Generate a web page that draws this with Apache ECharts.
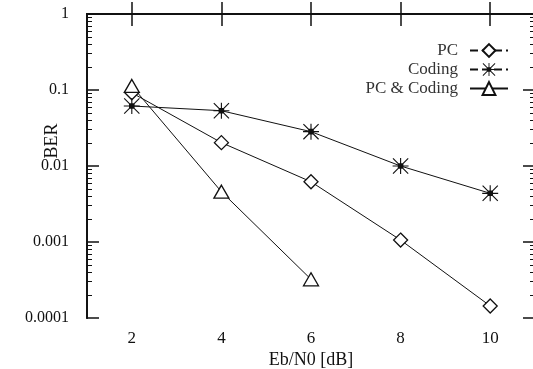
<!DOCTYPE html>
<html>
<head>
<meta charset="utf-8">
<script src="https://cdn.jsdelivr.net/npm/echarts@6/dist/echarts.min.js"></script>
<style>
  html, body { margin: 0; padding: 0; background: #fff; }
  #chart { width: 533px; height: 369px; }
</style>
</head>
<body>
<div id="chart"></div>
<script>
// Eb/N0 (dB) points
const ebn0 = [2, 4, 6, 8, 10]
const ebn0Tri = [2, 4, 6]
// BER
const berPC = [0.092, 0.0203, 0.0062, 0.00106, 0.000144]
const berCoding = [0.0616, 0.0534, 0.0283, 0.0100, 0.00437]
const berPCCoding = [0.113, 0.00459, 0.000323]

const xTicks = [2, 4, 6, 8, 10]
const yTickLabels = ['0.0001', '0.001', '0.01', '0.1', '1']
// minor ticks 2..9 per decade (log10 positions)
const minorTicks = []
for (let d = -4; d < 0; d++) {
  for (let k = 2; k <= 9; k++) minorTicks.push(Math.log10(k * Math.pow(10, d)))
}

// asterisk marker, all sub-paths same winding
const starPath = 'path://M9.3,0L10.7,0L10.7,20L9.3,20Z' +
  'M0,9.3L20,9.3L20,10.7L0,10.7Z' +
  'M1,0L20,19L19,20L0,1Z' +
  'M19,0L20,1L1,20L0,19Z' +
  'M6.5,6.5L13.5,6.5L13.5,13.5L6.5,13.5Z'

const font = 'Liberation Serif'
const ink = '#111'

const chart = echarts.init(document.getElementById('chart'), null, { renderer: 'canvas' })

const xBase = {
  type: 'value',
  min: 1,
  max: 11,
  axisLine: { lineStyle: { color: ink, width: 1.8 } },
  axisTick: { inside: true, length: 12, customValues: xTicks, lineStyle: { color: ink, width: 1.5 } },
  splitLine: { show: false }
}

// tick-only axes in log10 space for the 2..9 minor ticks
const yMinor = {
  type: 'value',
  min: -4,
  max: 0,
  offset: 0,
  axisLine: { show: true, lineStyle: { color: ink, width: 1.8 } },
  axisTick: { show: true, inside: true, length: 5, customValues: minorTicks, lineStyle: { color: ink, width: 1 } },
  axisLabel: { show: true, formatter: () => '' },
  splitLine: { show: false }
}

const yMajor = {
  type: 'log',
  logBase: 10,
  min: 0.0001,
  max: 1,
  offset: 0,
  axisLine: { lineStyle: { color: ink, width: 1.8 } },
  axisTick: { inside: true, length: 12, lineStyle: { color: ink, width: 1.5 } },
  splitLine: { show: false }
}

const mkSeries = (name, xs, ys, symbol, size, fill) => ({
  name,
  type: 'line',
  xAxisIndex: 0,
  yAxisIndex: 0,
  data: xs.map((x, i) => [x, ys[i]]),
  symbol,
  symbolSize: size,
  showSymbol: true,
  lineStyle: { color: ink, width: 1 },
  itemStyle: fill
    ? { color: ink, borderWidth: 0 }
    : { color: '#fff', borderColor: ink, borderWidth: 1.3 },
  z: 3
})

const option = {
  animation: false,
  backgroundColor: '#fff',
  grid: { left: 87, top: 14, width: 448, height: 304, outerBoundsMode: 'none' },
  legend: {
    orient: 'vertical',
    right: 19,
    top: 37,
    align: 'right',
    itemWidth: 38,
    itemHeight: 16,
    itemGap: 2,
    textStyle: { fontFamily: font, fontSize: 17, color: '#333', padding: [0, 7, 0, 0] },
    data: [
      { name: 'PC', lineStyle: { type: 'dashed' } },
      { name: 'Coding', lineStyle: { type: 'dashed' } },
      { name: 'PC & Coding' }
    ]
  },
  xAxis: [
    Object.assign({}, xBase, {
      position: 'bottom',
      name: 'Eb/N0 [dB]',
      nameLocation: 'middle',
      nameGap: 33,
      nameMoveOverlap: false,
      nameTextStyle: { fontFamily: font, fontSize: 18, color: ink },
      axisLabel: { customValues: xTicks, margin: 12, fontFamily: font, fontSize: 17, color: ink }
    }),
    Object.assign({}, xBase, {
      position: 'top',
      axisLabel: { show: false }
    })
  ],
  yAxis: [
    Object.assign({}, yMajor, {
      position: 'left',
      name: 'BER',
      nameLocation: 'middle',
      nameGap: 26,
      nameMoveOverlap: false,
      nameTextStyle: { fontFamily: font, fontSize: 18, color: ink, padding: [0, 0, 0, 50] },
      axisLabel: {
        margin: 18,
        fontFamily: font,
        fontSize: 16,
        color: ink,
        formatter: v => yTickLabels[Math.round(Math.log10(v)) + 4]
      }
    }),
    Object.assign({}, yMinor, { position: 'left' }),
    Object.assign({}, yMajor, { position: 'right', axisLabel: { show: false } }),
    Object.assign({}, yMinor, { position: 'right' })
  ],
  series: [
    mkSeries('PC', ebn0, berPC, 'diamond', 14, false),
    mkSeries('Coding', ebn0, berCoding, starPath, 16, true),
    mkSeries('PC & Coding', ebn0Tri, berPCCoding, 'triangle', [15, 13], false)
  ]
}

chart.setOption(option)
</script>
</body>
</html>
